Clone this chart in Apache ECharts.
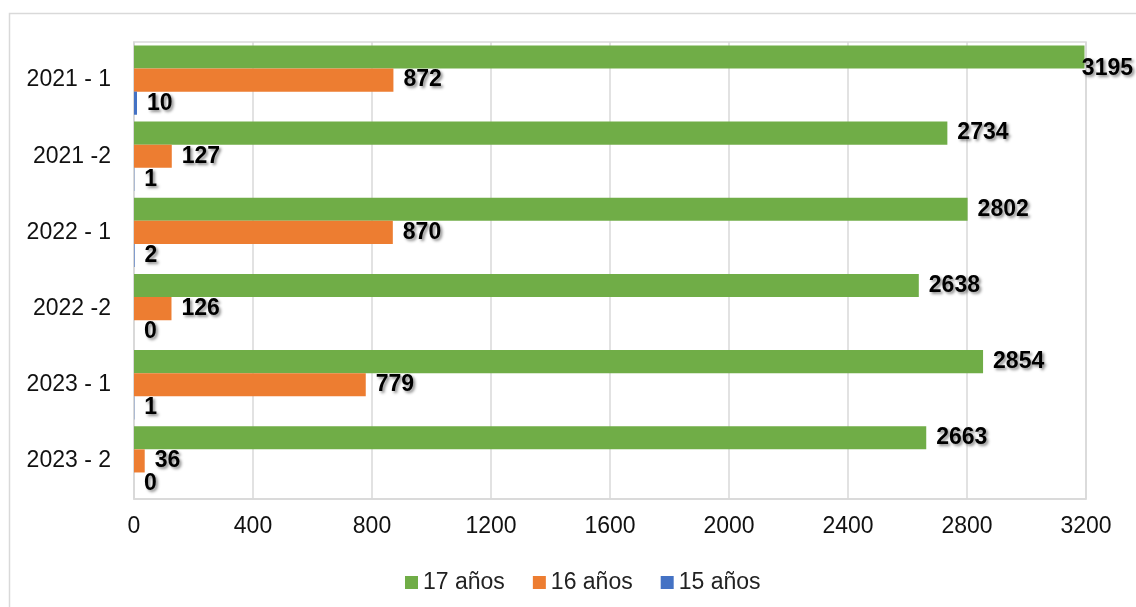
<!DOCTYPE html>
<html>
<head>
<meta charset="utf-8">
<script src="https://cdn.jsdelivr.net/npm/echarts@6/dist/echarts.min.js"></script>
<style>
  html, body { margin: 0; padding: 0; background: #fff; }
  #chart { width: 1136px; height: 607px; }
</style>
</head>
<body>
<div id="chart"></div>
<script>
// periodos (de arriba hacia abajo)
const periodos = ['2021 - 1', '2021 -2', '2022 - 1', '2022 -2', '2023 - 1', '2023 - 2'];
const anios17 = [3195, 2734, 2802, 2638, 2854, 2663];
const anios16 = [872, 127, 870, 126, 779, 36];
const anios15 = [10, 1, 2, 0, 1, 0];
const xTicks = [0, 400, 800, 1200, 1600, 2000, 2400, 2800, 3200];

const FONT = '"Liberation Sans", Arial, sans-serif';
const ANCHO = 1136;

function etiqueta() {
  return {
    show: true,
    position: 'right',
    distance: 10,
    color: '#000',
    fontFamily: FONT,
    fontSize: 23,
    fontWeight: 'bold',
    textShadowColor: 'rgba(0,0,0,0.45)',
    textShadowBlur: 3,
    textShadowOffsetX: 2,
    textShadowOffsetY: 2
  };
}

function serie(nombre, datos, color) {
  return {
    name: nombre,
    type: 'bar',
    data: datos,
    barGap: '0%',
    barCategoryGap: '9%',
    itemStyle: { color: color },
    label: etiqueta(),
    // que las etiquetas no se salgan del lienzo
    labelLayout: function (p) {
      const r = p.labelRect;
      if (r.x + r.width > ANCHO - 3) {
        return { x: ANCHO - 3 - r.width, align: 'left' };
      }
      return {};
    }
  };
}

let chart = echarts.init(document.getElementById('chart'));
chart.setOption({
  animation: false,
  textStyle: { fontFamily: FONT },
  graphic: [{
    type: 'rect',
    left: 7, top: 11,
    shape: { width: 1140, height: 610 },
    style: { fill: 'none', stroke: '#d9d9d9', lineWidth: 1.5 },
    silent: true
  }],
  grid: {
    left: 134, top: 42, right: 50, bottom: 108,
    show: true,
    borderColor: '#d9d9d9',
    borderWidth: 1.5
  },
  legend: {
    top: 566,
    left: 400,
    itemWidth: 13,
    itemHeight: 13,
    itemGap: 28,
    icon: 'rect',
    textStyle: { fontSize: 23, color: '#222', fontFamily: FONT },
    data: ['17 años', '16 años', '15 años']
  },
  xAxis: {
    type: 'value',
    min: xTicks[0],
    max: xTicks[xTicks.length - 1],
    interval: 400,
    axisLine: { show: true, lineStyle: { color: '#d9d9d9', width: 1.5 } },
    axisTick: { show: false },
    splitLine: { show: true, lineStyle: { color: '#d9d9d9', width: 1.5 } },
    axisLabel: {
      fontSize: 23, color: '#111', margin: 16, fontFamily: FONT,
      formatter: function (v) { return String(v); }
    }
  },
  yAxis: {
    type: 'category',
    data: periodos,
    inverse: true,
    axisLine: { show: true, lineStyle: { color: '#d9d9d9', width: 1.5 } },
    axisTick: { show: false },
    axisLabel: { fontSize: 23, color: '#111', margin: 23, fontFamily: FONT }
  },
  series: [
    serie('17 años', anios17, '#70ad47'),
    serie('16 años', anios16, '#ed7d31'),
    serie('15 años', anios15, '#4472c4')
  ]
});
window.addEventListener('resize', function() { chart.resize(); });
</script>
</body>
</html>
